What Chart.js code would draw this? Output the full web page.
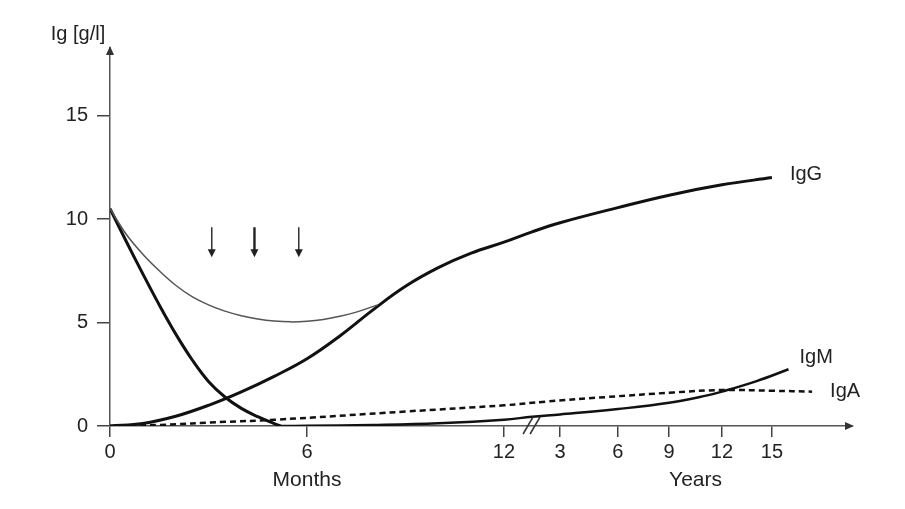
<!DOCTYPE html>
<html>
<head>
<meta charset="utf-8">
<script src="https://cdn.jsdelivr.net/npm/chart.js@4.4.1/dist/chart.umd.min.js"></script>
<style>
  body { margin: 0; background: #fff; }
  #wrap { width: 905px; height: 509px; }
</style>
</head>
<body>
<div id="wrap"><canvas id="myChart" width="905" height="509"></canvas></div>
<script>
// ages are in months (years * 12 after the break)
var tickAges = [0, 6, 12, 36, 72, 108, 144, 180];
var tickLabels = ['0', '6', '12', '3', '6', '9', '12', '15'];
var yTicks = [0, 5, 10, 15];

// total serum IgG (thin line)
var totalAge = [0, 0.5, 1, 1.5, 2, 2.5, 3, 3.5, 4, 4.5, 5, 5.5, 6, 6.5, 7, 7.5, 8.15];
var totalVal = [10.5, 9.25, 8.3, 7.5, 6.8, 6.25, 5.85, 5.55, 5.33, 5.17, 5.07, 5.03, 5.06, 5.15, 5.3, 5.5, 5.85];

// maternal IgG
var maternalAge = [0, 0.5, 1, 1.5, 2, 2.5, 3, 3.5, 4, 4.5, 5, 5.2];
var maternalVal = [10.5, 8.9, 7.35, 5.85, 4.45, 3.2, 2.15, 1.4, 0.85, 0.45, 0.12, 0];

// own IgG
var igGAge = [0, 1, 2, 3, 4, 5, 6, 7, 8, 9, 10, 11, 12, 24, 36, 72, 108, 144, 180];
var igGVal = [0, 0.12, 0.47, 1.0, 1.65, 2.4, 3.25, 4.35, 5.6, 6.75, 7.65, 8.35, 8.88, 9.38, 9.82, 10.55, 11.15, 11.65, 12.0];

var igMAge = [5.2, 6, 8, 10, 12, 24, 36, 72, 108, 134, 144, 169, 192];
var igMVal = [0, 0.01, 0.05, 0.13, 0.3, 0.45, 0.56, 0.82, 1.12, 1.48, 1.66, 2.17, 2.74];

var igAAge = [0, 1.5, 3.5, 5, 9, 12, 30, 65, 111, 145, 181, 209];
var igAVal = [0, 0.05, 0.2, 0.3, 0.7, 1.0, 1.18, 1.4, 1.62, 1.74, 1.7, 1.66];

// vaccination arrows (months) and their span on the y axis
var arrowAges = [3.1, 4.4, 5.75];
var arrowTop = 9.6;
var arrowBottom = 8.2;

// broken x axis: months are linear up to 12, then years
var ageKnots = [0, 12, 36, 72, 108, 144, 180];
var posKnots = [0, 12, 13.71, 15.47, 17.03, 18.64, 20.16];
function agePos(a) {
    for (var i = 1; i < ageKnots.length; i++) {
        if (a <= ageKnots[i]) {
            var t = (a - ageKnots[i - 1]) / (ageKnots[i] - ageKnots[i - 1]);
            return posKnots[i - 1] + t * (posKnots[i] - posKnots[i - 1]);
        }
    }
    var n = ageKnots.length - 1;
    var slope = (posKnots[n] - posKnots[n - 1]) / (ageKnots[n] - ageKnots[n - 1]);
    return posKnots[n] + (a - ageKnots[n]) * slope;
}
function pts(ages, vals) {
    return ages.map(function (a, i) { return { x: agePos(a), y: vals[i] }; });
}

var font = "'Liberation Sans', Arial, sans-serif";
var ink = '#222';

var overlay = {
    id: 'overlay',
    afterDraw: function (chart) {
        var ctx = chart.ctx, a = chart.chartArea;
        var x = chart.scales.x, y = chart.scales.y;
        ctx.save();

        // axis arrow heads
        ctx.fillStyle = '#333';
        ctx.beginPath();
        ctx.moveTo(a.left, a.top - 2);
        ctx.lineTo(a.left - 4, a.top + 7);
        ctx.lineTo(a.left + 4, a.top + 7);
        ctx.closePath();
        ctx.fill();
        ctx.beginPath();
        ctx.moveTo(a.right + 2, a.bottom);
        ctx.lineTo(a.right - 7, a.bottom - 4);
        ctx.lineTo(a.right - 7, a.bottom + 4);
        ctx.closePath();
        ctx.fill();

        // axis break //
        var bx = x.getPixelForValue(agePos(24));
        ctx.strokeStyle = '#333';
        ctx.lineWidth = 1.5;
        [-4, 3].forEach(function (d) {
            ctx.beginPath();
            ctx.moveTo(bx + d - 5, a.bottom + 8);
            ctx.lineTo(bx + d + 5, a.bottom - 9);
            ctx.stroke();
        });

        // down arrows
        arrowAges.forEach(function (m, i) {
            var px = x.getPixelForValue(agePos(m));
            var t = y.getPixelForValue(arrowTop), b = y.getPixelForValue(arrowBottom);
            ctx.strokeStyle = '#222';
            ctx.lineWidth = i === 1 ? 2.4 : 1.4;
            ctx.beginPath();
            ctx.moveTo(px, t);
            ctx.lineTo(px, b - 5);
            ctx.stroke();
            ctx.fillStyle = '#222';
            ctx.beginPath();
            ctx.moveTo(px, b + 1);
            ctx.lineTo(px - 4, b - 7);
            ctx.lineTo(px + 4, b - 7);
            ctx.closePath();
            ctx.fill();
        });

        // series labels
        ctx.fillStyle = ink;
        ctx.font = '20px ' + font;
        ctx.textBaseline = 'middle';
        ctx.textAlign = 'left';
        function endOf(ages, vals) {
            var n = ages.length - 1;
            return { x: x.getPixelForValue(agePos(ages[n])), y: y.getPixelForValue(vals[n]) };
        }
        var g = endOf(igGAge, igGVal);
        ctx.fillText('IgG', g.x + 18, g.y - 3);
        var mm = endOf(igMAge, igMVal);
        ctx.fillText('IgM', mm.x + 11, mm.y - 12);
        var aa = endOf(igAAge, igAVal);
        ctx.fillText('IgA', aa.x + 18, aa.y);

        // axis titles
        ctx.textAlign = 'center';
        ctx.fillText('Ig [g/l]', a.left - 32, a.top - 14);
        ctx.font = '21px ' + font;
        ctx.fillText('Months', x.getPixelForValue(agePos(6)), a.bottom + 54);
        ctx.fillText('Years', x.getPixelForValue(agePos(126)), a.bottom + 54);
        ctx.restore();
    }
};

var ctx = document.getElementById('myChart').getContext('2d');
var myChart = new Chart(ctx, {
    type: 'line',
    data: {
        datasets: [
            { label: 'Total IgG', data: pts(totalAge, totalVal), borderColor: '#555', borderWidth: 1.5 },
            { label: 'Maternal IgG', data: pts(maternalAge, maternalVal), borderColor: '#111', borderWidth: 3 },
            { label: 'IgG', data: pts(igGAge, igGVal), borderColor: '#111', borderWidth: 3 },
            { label: 'IgM', data: pts(igMAge, igMVal), borderColor: '#111', borderWidth: 2.5 },
            { label: 'IgA', data: pts(igAAge, igAVal), borderColor: '#111', borderWidth: 2.5, borderDash: [6, 4] }
        ]
    },
    options: {
        responsive: false,
        animation: false,
        layout: { padding: { top: 48, right: 53, left: 0, bottom: 0 } },
        elements: {
            point: { radius: 0 },
            line: { tension: 0.4, fill: false }
        },
        plugins: { legend: { display: false }, tooltip: { enabled: false } },
        scales: {
            x: {
                type: 'linear',
                min: 0,
                max: 22.6,
                afterFit: function (s) { s.height = 83; },
                afterBuildTicks: function (s) {
                    s.ticks = tickAges.map(function (a) { return { value: agePos(a) }; });
                },
                ticks: {
                    autoSkip: false,
                    maxRotation: 0,
                    padding: 3,
                    color: ink,
                    font: { family: font, size: 20 },
                    callback: function (v, i) { return tickLabels[i]; }
                },
                grid: { drawOnChartArea: false, tickLength: 11, color: '#444', lineWidth: 1.5 },
                border: { display: true, color: '#555', width: 1.5 }
            },
            y: {
                min: 0,
                max: 18.26,
                afterFit: function (s) { s.width = 110; },
                afterBuildTicks: function (s) {
                    s.ticks = yTicks.map(function (v) { return { value: v }; });
                },
                ticks: {
                    padding: 9,
                    color: ink,
                    font: { family: font, size: 20 }
                },
                grid: { drawOnChartArea: false, tickLength: 13, color: '#444', lineWidth: 1.5 },
                border: { display: true, color: '#555', width: 1.5 }
            }
        }
    },
    plugins: [overlay]
});
</script>
</body>
</html>
